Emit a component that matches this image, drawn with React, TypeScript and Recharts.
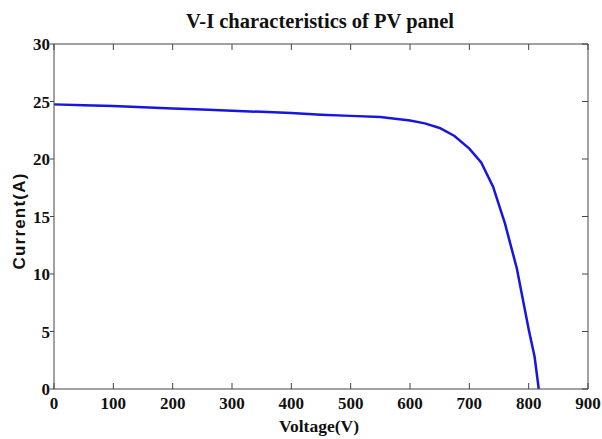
import { LineChart, Line, XAxis, YAxis, Label } from 'recharts';

// V-I curve (voltage in V, current in A)
const voltage = [0, 50, 100, 150, 200, 250, 300, 350, 400, 450, 500, 550, 600, 625, 650, 675, 700, 720, 740, 760, 780, 800, 810, 817];
const current = [24.75, 24.68, 24.6, 24.5, 24.4, 24.3, 24.2, 24.1, 24.0, 23.85, 23.75, 23.65, 23.35, 23.1, 22.7, 22.0, 20.9, 19.7, 17.6, 14.4, 10.5, 5.2, 2.8, 0];

const xTicks = [0, 100, 200, 300, 400, 500, 600, 700, 800, 900];
const yTicks = [0, 5, 10, 15, 20, 25, 30];

const data = voltage.map((v, i) => ({ v, i: current[i] }));

const AXIS = '#444';
const SERIF = '"Liberation Serif", "Times New Roman", serif';
const tickFont = { fontFamily: SERIF, fontSize: 17, fontWeight: 700, fill: '#111' };
const noLabel = () => <g />;

export default function App() {
  return (
    <div style={{ position: 'fixed', left: 0, top: 0, background: '#fff' }}>
      <LineChart width={602} height={439} data={data} margin={{ top: 43, right: 13, bottom: 0, left: 0 }}>
        {/* bottom axis, matlab style ticks pointing inward */}
        <XAxis
          dataKey="v"
          type="number"
          domain={[0, 900]}
          ticks={xTicks}
          interval={0}
          height={50}
          stroke={AXIS}
          tickSize={-6}
          tickMargin={14}
          tick={tickFont}
        >
          <Label
            content={() => (
              <text x={319} y={432} textAnchor="middle" fontFamily={SERIF} fontSize={17.5} fontWeight={700} fill="#111">
                Voltage(V)
              </text>
            )}
          />
        </XAxis>
        {/* top frame */}
        <XAxis
          xAxisId="top"
          dataKey="v"
          type="number"
          orientation="top"
          domain={[0, 900]}
          ticks={xTicks}
          interval={0}
          height={1}
          stroke={AXIS}
          tickSize={-6}
          tick={noLabel}
        >
          <Label
            content={() => (
              <text x={320} y={28} textAnchor="middle" fontFamily={SERIF} fontSize={20.5} fontWeight={700} fill="#111">
                V-I characteristics of PV panel
              </text>
            )}
          />
        </XAxis>
        <YAxis
          dataKey="i"
          type="number"
          domain={[0, 30]}
          ticks={yTicks}
          interval={0}
          width={54}
          stroke={AXIS}
          tickSize={4}
          tickMargin={0}
          tick={tickFont}
        >
          <Label
            content={() => (
              <text
                x={19}
                y={221}
                transform="rotate(-90 19 221)"
                textAnchor="middle"
                dominantBaseline="central"
                fontFamily='"Liberation Sans", Arial, sans-serif'
                fontSize={17}
                fontWeight={700}
                letterSpacing={1.2}
                fill="#111"
              >
                Current(A)
              </text>
            )}
          />
        </YAxis>
        {/* right frame */}
        <YAxis
          yAxisId="right"
          dataKey="i"
          orientation="right"
          type="number"
          domain={[0, 30]}
          ticks={yTicks}
          interval={0}
          width={1}
          stroke={AXIS}
          tickSize={-6}
          tick={noLabel}
        />
        <Line
          type="linear"
          dataKey="i"
          stroke="#1616e0"
          strokeWidth={2.5}
          dot={false}
          isAnimationActive={false}
        />
      </LineChart>
    </div>
  );
}
